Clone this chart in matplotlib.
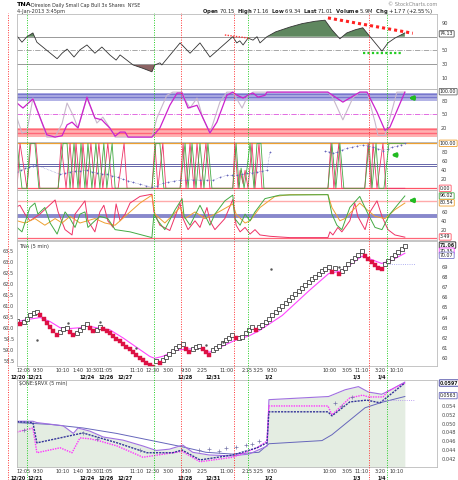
import matplotlib
matplotlib.use("Agg")
import matplotlib.pyplot as plt
import matplotlib.transforms as mtransforms
import numpy as np

# x values are bar numbers of the 5-minute chart (0 = first bar on the left)
time_ticks = [2.1, 6.3, 13.6, 18.4, 22.9, 26.8, 36.2, 41.0, 45.5, 51.0, 55.8, 63.3, 69.4, 72.7, 76.9, 94.4, 99.5, 104.0, 109.5, 114.6]
time_labels = ["12:05", "9:30", "10:10", "1:40", "10:30", "11:05", "11:10", "12:30", "3:00", "9:30", "2:25", "11:00",
               "2:15", "3:25", "9:30", "10:00", "3:05", "11:10", "3:20", "10:10"]
date_ticks = [0.3, 5.4, 21.1, 26.8, 32.6, 50.7, 59.1, 76.0, 102.5, 110.1]
date_labels = ["12/20", "12/21", "12/24", "12/26", "12/27", "12/28", "12/31", "1/2", "1/3", "1/4"]

red_marks = [-2.7, 49.5, 65.4, 106.2]
green_marks = [3.0, 41.3, 69.7, 111.6]

# top panel (RSI style line)
rsi_x = [0, 1.5, 3.0, 4.8, 6.0, 12.1, 13.6, 15.1, 17.2, 19.0, 21.1, 23.5, 25.6, 28.0, 29.9, 31.1, 35.0, 38.0, 40.7,
         41.6, 43.1, 43.7, 49.2, 52.2, 55.2, 58.2, 65.1, 66.3, 67.2, 68.2, 69.7, 71.2, 72.4, 73.3, 75.4, 78.0, 82.3,
         86.0, 90.0, 92.9, 95.0, 97.4, 99.5, 102.0, 104.3, 106.5, 110.1, 111.9, 114.0, 117.0]
rsi_y = [71, 62, 70, 75.5, 62, 38, 46, 52, 40.5, 51, 58, 46, 55, 43.5, 36, 43.5, 29, 24, 19,
         29, 32, 29, 61, 46, 61, 40.5, 70, 61, 64, 58, 68, 65, 70, 61, 70, 77, 84,
         89, 92.5, 94, 80, 67, 75.5, 80, 83, 70, 49, 61, 68, 75.5]

# second panel (stochastic RSI style)
srsi_x = [0, 1.8, 4.8, 6.9, 9.0, 11.5, 13.6, 15.1, 16.6, 18.4, 21.1, 23.5, 25.6, 26.5, 28.0, 29.6, 31.1, 32.6, 33.5,
          40.7, 43.1, 46.1, 48.3, 49.8, 51.6, 54.3, 56.1, 58.2, 60.3, 63.3, 65.1, 66.4, 68.2, 70.3, 71.2, 72.7, 74.8,
          75.4, 93.8, 98.3, 103.4, 105.6, 108.6, 111.0, 112.5, 117.0]
srsi_y = [75, 64, 84, 44, 5, 0, 3, 27, 33, 20, 88, 42, 38, 31, 20, 2, 11, 11, 0,
          0, 20, 70, 97, 97, 64, 70, 42, 9, 33, 92, 99, 92, 86, 95, 97, 88, 92,
          99, 99, 77, 99, 99, 55, 15, 22, 99]
sig_x = [0, 1.5, 3.0, 4.8, 6.9, 9.0, 11.5, 13.6, 15.1, 16.9, 18.4, 21.1, 24.1, 25.9, 28.0, 29.6, 33.5, 40.7, 42.2,
         45.2, 47.0, 49.8, 50.7, 52.2, 54.3, 56.1, 58.2, 61.2, 63.3, 65.1, 67.9, 69.7, 71.2, 93.8, 95.3, 98.3, 101.3,
         103.4, 105.6, 108.0, 108.9, 111.0, 112.5, 114.6, 117.0]
sig_y = [42, 9, 12, 86, 44, 0, 0, 30, 75, 48, 20, 86, 31, 44, 20, 0, 0, 0, 42,
         92, 99, 99, 82, 64, 86, 42, 9, 77, 99, 99, 64, 92, 99, 99, 86, 38, 86,
         99, 99, 33, 4, 4, 42, 99, 99]

# third panel (fast stochastic lines + dots)
k_x = [0.0, 0.9, 2.4, 3.0, 4.2, 5.7, 6.9, 12.4, 13.3, 14.8, 16.0, 16.9, 17.8, 19.0, 19.9, 21.1, 22.3, 23.5, 24.7,
       25.9, 27.4, 28.7, 30.5, 32.3, 33.2, 40.7, 41.6, 42.5, 44.0, 44.9, 49.2, 50.1, 51.0, 52.2, 53.4, 54.3, 55.5,
       57.0, 58.2, 65.1, 65.7, 66.7, 67.3, 68.2, 68.8, 69.7, 70.9, 71.8, 73.0, 73.9, 75.7, 93.8, 94.7, 95.6, 97.1,
       98.0, 104.9, 105.9, 106.8, 107.4, 108.6, 110.4, 111.3, 117.0]
k_y = [0, 100, 30, 0, 100, 100, 0, 0, 100, 0, 100, 0, 100, 0, 100, 0, 100, 0, 100,
       0, 100, 0, 0, 100, 0, 0, 100, 0, 100, 0, 0, 100, 0, 100, 0, 100, 0,
       100, 0, 0, 100, 0, 40, 10, 40, 0, 100, 0, 100, 0, 0, 0, 100, 0, 100,
       0, 0, 100, 0, 100, 0, 100, 0, 0]
d_x = [0.0, 1.5, 3.0, 3.9, 5.4, 6.6, 7.5, 12.4, 13.9, 15.1, 16.0, 17.2, 18.4, 19.3, 20.5, 21.4, 22.6, 23.8, 25.0,
       26.2, 27.1, 28.7, 29.6, 40.7, 41.9, 43.1, 44.3, 49.2, 50.7, 51.6, 52.8, 54.0, 55.2, 56.4, 57.6, 58.8, 65.1,
       66.1, 67.0, 67.6, 68.5, 69.4, 70.3, 71.5, 72.4, 73.6, 74.5, 75.7, 93.8, 95.0, 96.2, 97.4, 98.6, 104.9, 106.2,
       107.1, 108.3, 109.2, 110.7, 112.2, 117.0]
d_y = [100, 0, 0, 100, 100, 0, 0, 0, 100, 100, 0, 100, 0, 100, 0, 100, 0, 100, 0,
       100, 0, 100, 0, 0, 100, 100, 0, 0, 100, 0, 100, 0, 100, 0, 100, 0, 0,
       100, 0, 45, 0, 45, 100, 0, 100, 100, 0, 0, 0, 100, 0, 100, 0, 0, 100,
       0, 100, 0, 0, 100, 100]
dots_x = [0.0, 1.2, 2.4, 3.6, 4.8, 5.7, 13.0, 14.5, 16.0, 17.5, 19.0, 21.1, 22.6, 24.1, 25.6, 27.1, 28.7, 30.5, 32.0,
          33.5, 35.0, 37.1, 38.9, 40.7, 42.2, 44.0, 45.5, 47.4, 49.2, 51.3, 53.1, 55.2, 57.3, 59.1, 61.2, 63.3, 64.8,
          66.4, 67.9, 69.4, 70.9, 72.4, 73.9, 75.4, 76.3, 85.0, 92.9, 94.1, 95.3, 96.5, 98.0, 99.5, 101.0, 102.5,
          104.3, 105.9, 107.4, 108.9, 110.4, 111.9, 113.1, 114.6, 115.8, 117.0]
dots_y = [36, 40, 44, 47, 50, 52, 31, 33, 36, 38, 38, 40, 37, 34, 32, 31, 28, 24, 20,
          17, 13, 9, 6, 2, 5, 11, 13, 16, 18, 18, 19, 18, 18, 18, 24, 29, 29,
          29, 31, 33, 35, 36, 38, 40, 80, np.nan, 82, 81, 78, 80, 85, 89, 91, 94,
          96, 94, 91, 88, 84, 88, 91, 94, 97, 100]

# fourth panel (slow oscillators)
osc_r_x = [0, 0.9, 2.4, 3.9, 6.9, 11.5, 12.4, 14.5, 16.6, 17.5, 20.5, 21.4, 23.5, 25.0, 26.2, 27.4, 29.0, 29.9, 31.1,
           32.6, 34.1, 37.1, 40.7, 41.3, 43.1, 46.1, 49.2, 49.8, 51.6, 53.7, 55.2, 57.3, 58.2, 59.7, 62.7, 65.1, 66.1,
           67.3, 68.8, 70.3, 71.8, 73.3, 76.3, 82.3, 93.8, 94.4, 95.3, 96.8, 98.0, 100.4, 101.9, 102.8, 105.0, 106.5,
           108.6, 110.1, 111.9, 114.0, 117.0]
osc_r_y = [72, 75, 55, 40, 55, 87, 60, 20, 8, 55, 85, 40, 15, 60, 75, 40, 25, 78, 40,
           55, 80, 95, 100, 60, 30, 18, 80, 50, 20, 40, 25, 70, 40, 20, 45, 88, 30,
           15, 25, 10, 20, 8, 5, 2, 2, 15, 8, 25, 15, 40, 80, 50, 20, 60,
           85, 50, 20, 8, 3]
osc_g_x = [0, 1.5, 3.9, 5.4, 6.3, 8.4, 10.0, 12.1, 14.5, 16.0, 17.5, 19.0, 20.5, 21.4, 23.5, 25.0, 27.4, 29.6, 34.1,
           40.7, 41.3, 42.5, 44.6, 47.7, 49.8, 50.4, 52.2, 55.2, 58.2, 59.7, 62.7, 65.1, 65.7, 67.3, 68.8, 70.3, 71.8,
           74.8, 79.3, 93.8, 95.0, 96.5, 98.0, 100.4, 103.4, 105.6, 108.0, 110.1, 112.5, 117.0]
osc_g_y = [25, 15, 70, 80, 55, 70, 35, 10, 60, 45, 25, 55, 60, 25, 40, 50, 45, 20, 15,
           2, 55, 40, 20, 65, 90, 50, 30, 75, 30, 55, 85, 98, 45, 30, 55, 40, 60,
           90, 98, 99, 55, 30, 20, 70, 95, 60, 25, 20, 55, 96]
osc_o_x = [0, 2.4, 5.4, 8.4, 11.5, 13.6, 16.0, 19.0, 23.5, 26.5, 29.6, 32.6, 37.1, 40.7, 41.6, 44.6, 49.2, 50.7, 53.7,
           56.7, 59.7, 65.1, 66.1, 68.8, 70.3, 73.3, 77.8, 82.3, 93.8, 95.0, 97.4, 98.9, 103.4, 105.6, 108.0, 111.0,
           114.0, 117.0]
osc_o_y = [40, 35, 45, 30, 45, 35, 50, 35, 45, 35, 30, 50, 80, 98, 55, 35, 70, 45, 60,
           45, 55, 78, 55, 35, 40, 70, 95, 99, 99, 70, 40, 45, 80, 65, 50, 45,
           65, 80]

# price panel
price = [63.7, 63.4, 63.6, 63.9, 64.2, 64.4, 64.5, 64.2, 63.9, 63.5, 63.1, 62.7, 62.3, 62.6, 62.9, 63.0, 62.6, 62.3,
         62.5, 62.8, 63.1, 63.4, 63.0, 62.7, 62.8, 63.1, 62.9, 62.7, 62.5, 62.2, 61.9, 61.7, 61.4, 61.1, 60.9, 60.6,
         60.3, 60.0, 59.8, 59.5, 59.3, 59.2, 59.7, 59.5, 59.8, 60.1, 60.4, 60.7, 61.0, 61.2, 61.4, 60.9, 60.6, 60.9,
         61.1, 61.2, 60.9, 60.6, 60.3, 60.8, 61.0, 61.2, 61.5, 61.8, 62.0, 62.3, 62.0, 62.0, 62.1, 62.5, 62.8, 63.1,
         62.8, 63.1, 63.3, 63.6, 63.9, 64.2, 64.5, 64.8, 65.1, 65.4, 65.7, 66.0, 66.3, 66.6, 66.9, 67.2, 67.5, 67.8,
         68.0, 68.3, 68.6, 68.8, 69.0, 68.5, 68.9, 68.3, 68.6, 68.9, 69.2, 69.5, 69.8, 70.1, 70.5, 70.0, 69.7, 69.4,
         69.1, 68.9, 68.8, 69.2, 69.5, 69.8, 70.1, 70.4, 70.7, 71.0]
ma_x = [0, 3, 7, 10, 13, 15, 19, 21, 24, 28, 32, 36, 40, 41.5, 44, 48, 51, 55, 58, 62, 66, 70, 73, 80, 88, 94, 98,
        104, 106, 110, 113, 117]
ma_y = [63.6, 63.8, 64.0, 63.6, 63.0, 62.9, 63.0, 63.2, 63.0, 62.8, 62.0, 61.1, 60.2, 60.0, 60.2, 60.8, 60.9, 61.0,
        60.6, 61.2, 61.8, 62.2, 62.7, 64.2, 66.6, 68.3, 68.6, 70.0, 69.8, 69.3, 69.6, 70.3]
stray_x = [6, 15.5, 25, 36, 57, 62, 76.5, 97]
stray_y = [61.8, 63.5, 63.6, 61.0, 61.3, 61.6, 68.75, 69.0]
price_right_ticks = [60, 61, 62, 63, 64, 65, 66, 67, 68, 69]
price_left_ticks = [58.5, 59.0, 59.5, 60.0, 60.5, 61.0, 61.5, 62.0, 62.5, 63.0, 63.5]

# bottom panel ($ONE:$RVX)
upper_x = [0, 4.8, 6, 13.9, 17, 18.4, 22, 26, 32, 38, 42, 46, 50, 53, 58, 65, 70, 74, 75.5, 76, 94, 99, 103, 106,
           110, 112, 117]
upper_y = [0.0505, 0.0505, 0.0502, 0.0495, 0.0478, 0.0490, 0.0483, 0.0470, 0.0463, 0.0450, 0.0440, 0.0443, 0.0452,
           0.0436, 0.0430, 0.0428, 0.0432, 0.0445, 0.0450, 0.0553, 0.0560, 0.0575, 0.0582, 0.0570, 0.0565, 0.0572,
           0.0592]
mid_x = [0, 4.8, 6, 13, 19.9, 25, 30.2, 39.2, 47, 49.8, 55.2, 65.1, 72.4, 75.4, 76, 93.8, 95, 100.4, 105.5, 109.5, 117]
mid_y = [0.0504, 0.0502, 0.0457, 0.0468, 0.0479, 0.0468, 0.0457, 0.0435, 0.0435, 0.0441, 0.0419, 0.0430, 0.0446,
         0.0457, 0.0526, 0.0526, 0.0517, 0.0548, 0.0552, 0.0546, 0.0590]
low_x = [0, 4.8, 6, 13, 16.6, 19, 22, 25, 30.2, 38, 47, 49.8, 55.2, 65.1, 72.4, 75.4, 76, 93.8, 95, 100.4, 104.3,
         106, 110.4, 111.9, 117]
low_y = [0.0481, 0.0490, 0.0435, 0.0446, 0.0435, 0.0468, 0.0466, 0.0461, 0.0450, 0.0425, 0.0435, 0.0438, 0.0415,
         0.0425, 0.0446, 0.0461, 0.0539, 0.0539, 0.0519, 0.0557, 0.0563, 0.0559, 0.0559, 0.0572, 0.0590]
slow_x = [0, 10, 20, 30, 40, 50, 57, 65, 73, 76, 92, 95, 100, 105, 110, 117]
slow_y = [0.0502, 0.0498, 0.0490, 0.0478, 0.0463, 0.0448, 0.0436, 0.0432, 0.0436, 0.0455, 0.0462, 0.0475, 0.0505,
          0.0535, 0.0547, 0.0560]
tick_x = [2, 20, 24, 37, 55, 58, 61, 63, 66, 69, 71, 73, 96, 98, 101]
tick_y = [0.0485, 0.0478, 0.0465, 0.0442, 0.0440, 0.0443, 0.0438, 0.0445, 0.0447, 0.0452, 0.0455, 0.0460, 0.0545,
          0.0540, 0.0560]
ratio_ticks = [0.042, 0.044, 0.046, 0.048, 0.050, 0.052, 0.054, 0.056]

XMAX = 126.7
W, H = 458, 480
FS = 3.6
fig = plt.figure(figsize=(W / 100, H / 100), dpi=100)


def panel(top, bottom):
    ax = fig.add_axes([17 / W, 1 - bottom / H, 420 / W, (bottom - top) / H])
    ax.set_xlim(0, XMAX)
    ax.set_facecolor("none")
    for s in ax.spines.values():
        s.set_color("#bbbbbb")
        s.set_linewidth(0.6)
    ax.yaxis.tick_right()
    ax.tick_params(labelsize=FS, length=0, pad=3, colors="#444444")
    ax.set_xticks([])
    return ax


def box(ax, val, text, ec, bold=False):
    tr = mtransforms.blended_transform_factory(ax.transAxes, ax.transData)
    ax.text(1.007, val, text, transform=tr, fontsize=3.4, va="center", ha="left",
            fontweight="bold" if bold else "normal", color="#222222",
            bbox=dict(boxstyle="round,pad=0.15", fc="white", ec=ec, lw=0.6))


def time_axis(ax):
    ax.xaxis.remove_overlapping_locs = False
    ax.set_xticks(time_ticks, time_labels)
    ax.set_xticks(date_ticks, date_labels, minor=True)
    ax.tick_params(axis="x", which="major", labelsize=3.5, length=0, pad=1.5, colors="#333333")
    ax.tick_params(axis="x", which="minor", labelsize=3.5, length=0, pad=6.0, colors="#111111")
    for t in ax.get_xticklabels(minor=True):
        t.set_fontweight("bold")


# panel 1
ax1 = panel(14, 89)
ax1.set_ylim(-6, 103)
ax1.axhline(70, color="#999999", lw=0.7)
ax1.axhline(30, color="#999999", lw=0.7)
ax1.axhline(50, color="#999999", lw=0.6, ls="-.")
rx, ry = np.array(rsi_x), np.array(rsi_y)
ax1.fill_between(rx, ry, 70, where=ry >= 70, interpolate=True, color="#5f875f", lw=0)
ax1.fill_between(rx, ry, 30, where=ry <= 30, interpolate=True, color="#8c6464", lw=0)
ax1.plot(rx, ry, color="#333333", lw=0.6)
ax1.plot([62.7, 70.3], [72.5, 67.7], color="#ff3333", lw=1.0, ls=(0, (1, 1)))
ax1.plot([93.8, 119.4], [97.3, 75.0], color="#ff2222", lw=2.2, ls=(0, (1, 1)))
ax1.plot([104.3, 116.1], [46.8, 46.8], color="#22cc22", lw=1.6, ls=(0, (1, 1)))
ax1.set_yticks([10, 30, 50, 90])   # the 70 label sits under the value box
box(ax1, 74.13, "74.13", "#555555")

# panel 2
ax2 = panel(89, 142)
ax2.set_ylim(-10.8, 105.9)
ax2.axhspan(79.5, 96.6, color="#b3b3e6", lw=0)
ax2.axhline(95, color="#7777cc", lw=1.0)
ax2.axhline(88, color="#7777cc", lw=1.0)
ax2.axhspan(0.8, 20.7, color="#ffb0b0", lw=0)
ax2.axhline(18.5, color="#ff6677", lw=1.0)
ax2.axhline(9.6, color="#ff6677", lw=1.0)
ax2.axhline(50, color="#dd55dd", lw=0.6, ls="-.")
ax2.plot(sig_x, sig_y, color="#c8b8cc", lw=0.8)
ax2.plot(srsi_x, srsi_y, color="#cc22cc", lw=0.9)
ax2.set_yticks([20, 50, 80])
box(ax2, 100, "100.00", "#666666")
ax2.annotate("", xy=(117.3, 86), xytext=(120.8, 86),
             arrowprops=dict(arrowstyle="-|>", color="#22bb22", lw=2.0, mutation_scale=5))

# panel 3
ax3 = panel(142, 190)
ax3.set_ylim(-3.8, 102.9)
ax3.axhline(100, color="#eea030", lw=0.9)
ax3.axhline(0, color="#ff5566", lw=0.9)
ax3.axhline(55, color="#6666aa", lw=0.7)
ax3.axhline(49, color="#6666aa", lw=0.7)
ax3.plot(k_x, k_y, color="#ee3366", lw=0.6)
ax3.plot(d_x, d_y, color="#44aa44", lw=0.6)
ax3.plot(dots_x, dots_y, color="#6666bb", lw=0.4, ls=":", marker="+", ms=2, mew=0.5)
ax3.set_yticks([20, 40, 60, 80])
box(ax3, 100, "100.00", "#eea030")
box(ax3, 0, "0.00", "#ff5566")
ax3.annotate("", xy=(112.0, 74), xytext=(115.5, 74),
             arrowprops=dict(arrowstyle="-|>", color="#22bb22", lw=2.0, mutation_scale=5))

# panel 4
ax4 = panel(190, 240)
ax4.set_ylim(-3.4, 109.5)
ax4.axhline(85, color="#ffaaaa", lw=1.0)
ax4.axhline(50, color="#8888cc", lw=2.8)
ax4.axhline(0, color="#ff6677", lw=0.9)
ax4.plot(osc_r_x, osc_r_y, color="#ee3366", lw=0.7)
ax4.plot(osc_o_x, osc_o_y, color="#eea030", lw=0.7)
ax4.plot(osc_g_x, osc_g_y, color="#44aa44", lw=0.7)
ax4.set_yticks([20, 40, 60])
box(ax4, 96.02, "96.02", "#44aa44")
box(ax4, 80.54, "80.54", "#eea030")
box(ax4, 3.49, "3.49", "#ff5566")
ax4.annotate("", xy=(117.3, 86), xytext=(120.8, 86),
             arrowprops=dict(arrowstyle="-|>", color="#22bb22", lw=2.0, mutation_scale=5))

# price panel
ax5 = panel(241, 366)
ax5b = ax5.twinx()
ax5.yaxis.tick_right()
ax5.set_ylim(59.25, 71.5)
p = np.array(price)
bars = np.arange(len(p))
up = np.diff(p, prepend=p[0]) >= 0
ax5.plot(ma_x, ma_y, color="#ff44ff", lw=0.8)
ax5.plot(bars[up], p[up], "s", ms=2.2, mfc="white", mec="#222222", mew=0.5)
ax5.plot(bars[~up], p[~up], "s", ms=2.5, mfc="#dd1144", mec="#dd1144", mew=0.3)
ax5.plot(stray_x, stray_y, ".", ms=1.5, color="#555555")
ax5.plot([111.6, 120], [69.2, 69.2], color="#9999ee", lw=0.6, ls=":")
ax5.set_yticks(price_right_ticks)
time_axis(ax5)
box(ax5, 71.1, "71.06", "#222222", bold=True)
box(ax5, 70.5, "70.35", "#ff44ff")
box(ax5, 70.1, "70.07", "#7777cc")
ax5.text(0.005, 0.975, "TNA (5 min)", transform=ax5.transAxes, fontsize=FS, va="top", color="#333333")
ax5b.set_ylim(58.27, 63.95)
ax5b.yaxis.tick_left()
ax5b.set_yticks(price_left_ticks, [f"{v:.1f}" for v in price_left_ticks])
ax5b.tick_params(labelsize=FS, length=0, pad=2, colors="#444444")
for s in ax5b.spines.values():
    s.set_visible(False)

# bottom panel
ax6 = panel(380, 467)
ax6.set_ylim(0.04033, 0.05967)
ax6.fill_between(upper_x, upper_y, 0.04033, color="#e4ede2", lw=0)
ax6.plot(slow_x, slow_y, color="#6666bb", lw=0.7)
ax6.plot(upper_x, upper_y, color="#a070e0", lw=0.8)
ax6.plot(low_x, low_y, color="#ff33ff", lw=1.0, ls=(0, (1, 0.8)))
ax6.plot(mid_x, mid_y, color="#333399", lw=1.0, ls=(0, (1.5, 0.8)))
ax6.plot(tick_x, tick_y, "+", ms=2.2, mew=0.5, color="#7777aa")
ax6.plot([110, 120], [0.0552, 0.0552], color="#aa88ee", lw=0.6, ls=":")
ax6.set_yticks(ratio_ticks, [f"{v:.3f}" for v in ratio_ticks])
time_axis(ax6)
box(ax6, 0.0590, "0.0597", "#333399", bold=True)
box(ax6, 0.0562, "0.0563", "#6666bb")
ax6.text(0.005, 0.985, r"\$ONE:\$RVX (5 min)", transform=ax6.transAxes, fontsize=FS, va="top", color="#333333")

# vertical marker lines running through the whole chart
ov = fig.add_axes([17 / W, 0, 420 / W, 1])
ov.set_xlim(0, XMAX)
ov.set_ylim(0, 1)
ov.axis("off")
for x in red_marks:
    ov.axvline(x, 0, 1 - 13 / H, color="#ff3333", lw=0.7, ls=(0, (1, 1.5)), clip_on=False)
for x in green_marks:
    ov.axvline(x, 0, 1 - 13 / H, color="#22cc22", lw=0.7, ls=(0, (1, 1.5)), clip_on=False)

# header
fig.text(17 / W, 1 - 5 / H, "TNA", fontsize=4.6, fontweight="bold", va="center")
fig.text(31 / W, 1 - 5 / H, "Direxion Daily Small Cap Bull 3x Shares  NYSE", fontsize=3.4, va="center", color="#333333")
fig.text(17 / W, 1 - 11 / H, "4-Jan-2013 3:45pm", fontsize=3.6, va="center", color="#333333")
fig.text(437 / W, 1 - 4 / H, "© StockCharts.com", fontsize=3.6, va="center", ha="right", color="#888888")
fig.text(433 / W, 1 - 11 / H,
         r"$\bf{Open}$ 70.15  $\bf{High}$ 71.16  $\bf{Low}$ 69.34  $\bf{Last}$ 71.01  "
         r"$\bf{Volume}$ 5.9M  $\bf{Chg}$ +1.77 (+2.55%)",
         fontsize=3.8, va="center", ha="right", color="#222222")

fig.savefig("out.png", dpi=100)
